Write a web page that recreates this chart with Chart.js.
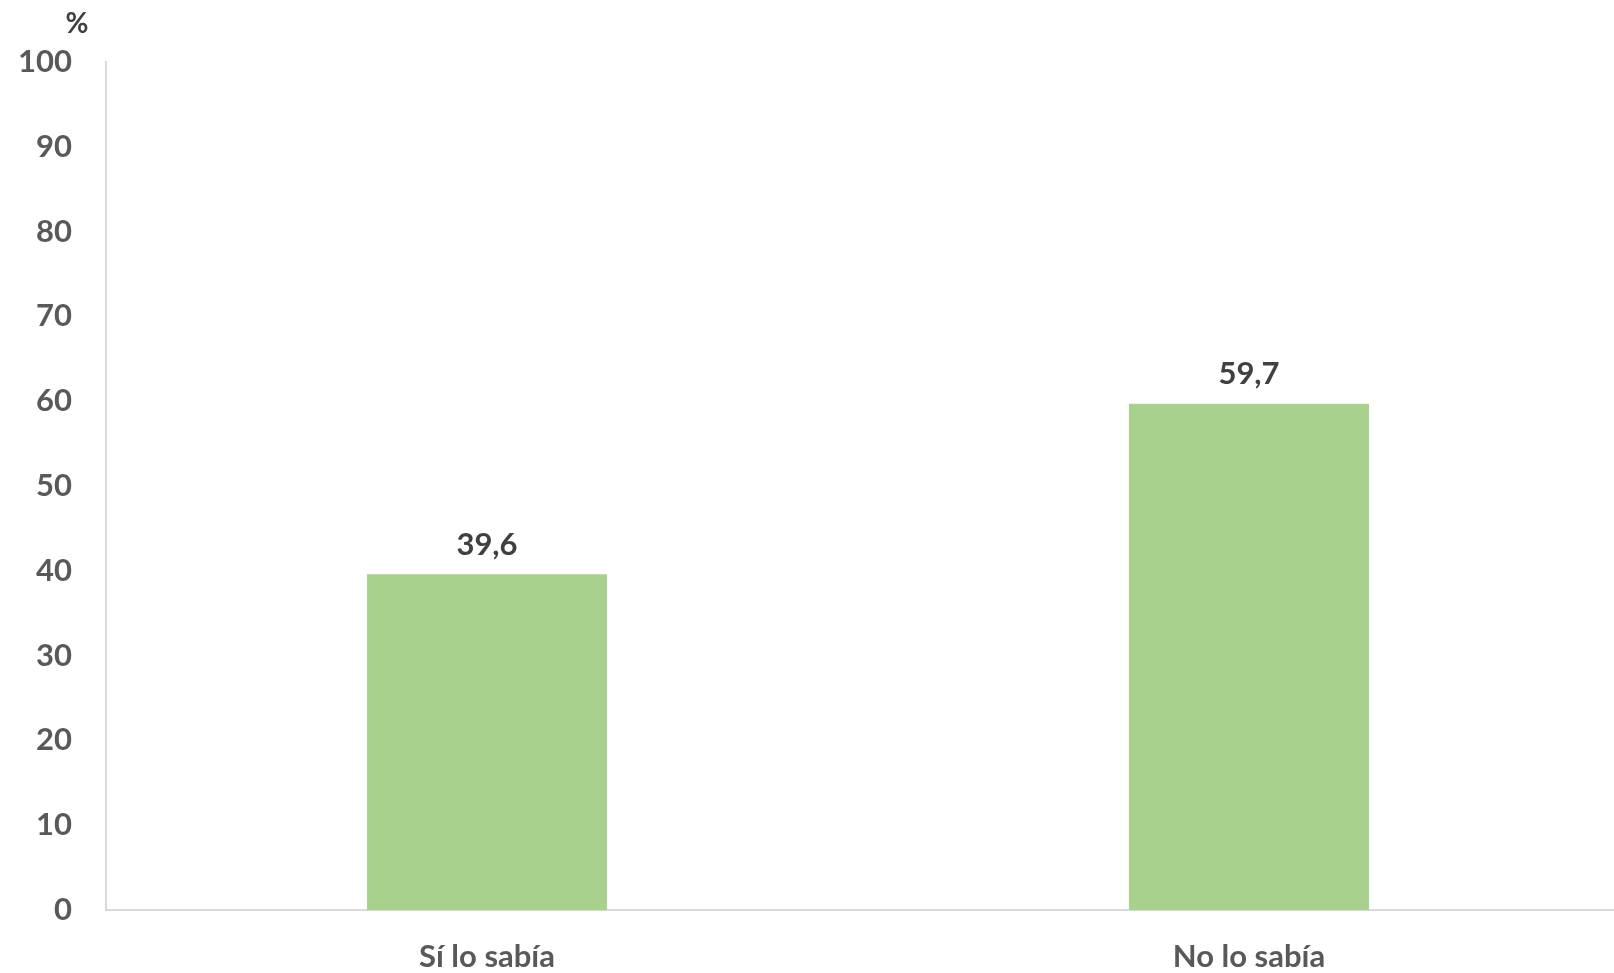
<!DOCTYPE html>
<html>
<head>
<meta charset="utf-8">
<script src="https://cdn.jsdelivr.net/npm/chart.js@4/dist/chart.umd.min.js"></script>
<style>
  html, body { margin: 0; padding: 0; background: #fff; overflow: hidden; }
  #wrap { width: 1614px; height: 973px; overflow: hidden; }
  #box { width: 1630px; height: 973px; }
</style>
</head>
<body>
<div id="wrap"><div id="box"><canvas id="barChart"></canvas></div></div>
<script>
// datos
var categorias = ["Sí lo sabía", "No lo sabía"];
var valores = [39.6, 59.7];
var ticksY = [0, 10, 20, 30, 40, 50, 60, 70, 80, 90, 100];

var fuente = "Lato, 'Open Sans', sans-serif";
var gris = '#595959';

// etiquetas encima de cada barra, con coma decimal
var etiquetas = {
  id: 'etiquetas',
  afterDatasetsDraw: function(chart) {
    var ctx = chart.ctx;
    var meta = chart.getDatasetMeta(0);
    ctx.save();
    ctx.font = "bold 31px " + fuente;
    ctx.fillStyle = '#404040';
    ctx.textAlign = 'center';
    ctx.textBaseline = 'bottom';
    meta.data.forEach(function(bar, i) {
      ctx.fillText(valores[i].toFixed(1).replace('.', ','), bar.x, bar.y - 14);
    });
    // el simbolo % arriba del eje
    var y = chart.scales.y;
    ctx.font = "bold 28px " + fuente;
    ctx.fillStyle = '#404040';
    ctx.textAlign = 'center';
    ctx.fillText('%', y.right - 29, y.top - 24);
    ctx.restore();
  }
};

var barChart = new Chart(document.getElementById("barChart"), {
  type: 'bar',
  data: {
    labels: categorias,
    datasets: [{
      data: valores,
      backgroundColor: '#a9d18e',
      borderWidth: 0,
      barPercentage: 0.315,
      categoryPercentage: 1
    }]
  },
  options: {
    responsive: true,
    maintainAspectRatio: false,
    animation: false,
    layout: { padding: { top: 62, right: 0, left: 0, bottom: 0 } },
    plugins: {
      legend: { display: false },
      tooltip: { enabled: false }
    },
    scales: {
      x: {
        grid: { display: false, drawTicks: false },
        border: { color: '#d9d9d9', width: 2 },
        ticks: {
          color: gris,
          font: { family: fuente, size: 31, weight: 'bold' },
          padding: 28
        },
        afterFit: function(s) { s.height = 63; }
      },
      y: {
        min: 0,
        max: 100,
        afterBuildTicks: function(s) { s.ticks = ticksY.map(function(v) { return { value: v }; }); },
        grid: { display: false, drawTicks: false },
        border: { color: '#d9d9d9', width: 2 },
        ticks: {
          color: gris,
          font: { family: fuente, size: 31, weight: 'bold' },
          padding: 34
        },
        afterFit: function(s) { s.width = 106; }
      }
    }
  },
  plugins: [etiquetas]
});
</script>
</body>
</html>
